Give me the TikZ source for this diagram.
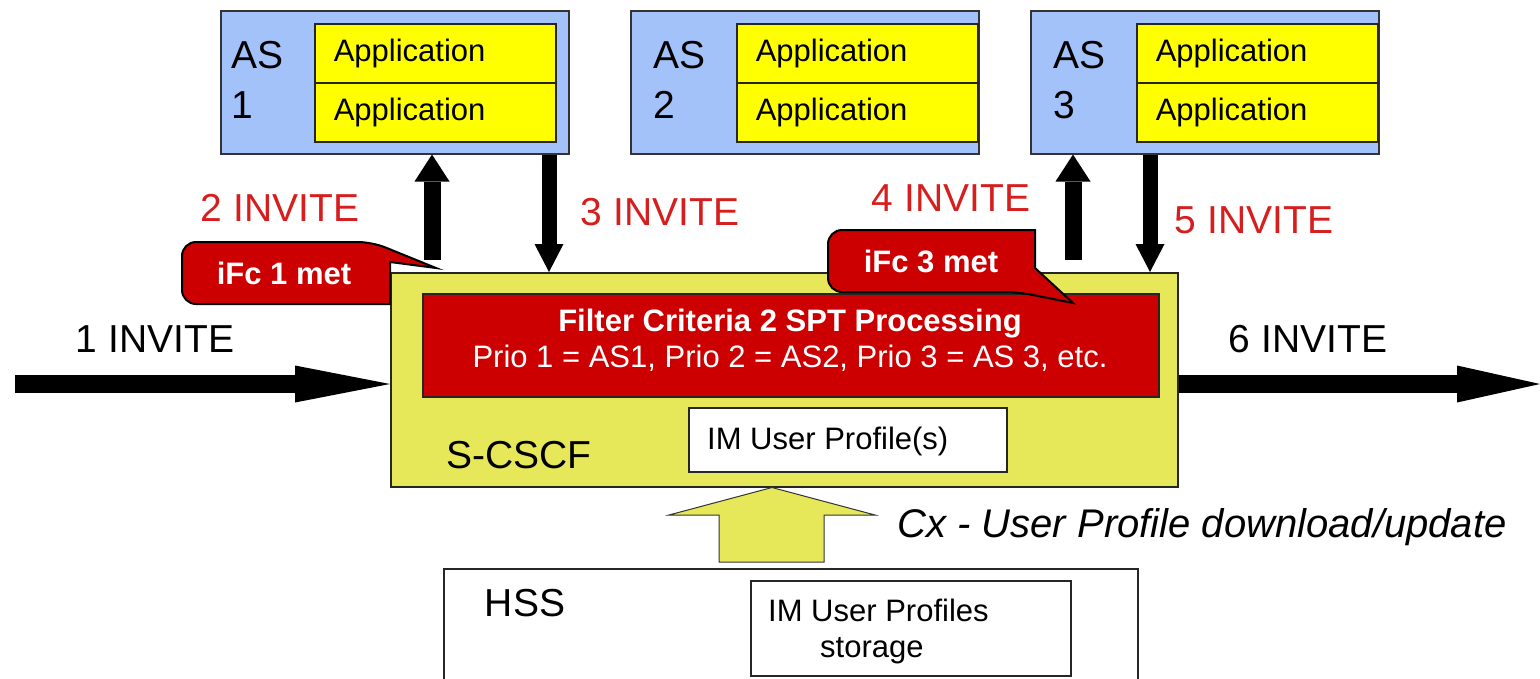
\documentclass[tikz,border=0pt]{standalone}
\usepackage{fontspec}
\setmainfont{Liberation Sans}
\usetikzlibrary{arrows.meta}
\definecolor{asblue}{RGB}{164,194,250}
\definecolor{appyellow}{RGB}{255,255,0}
\definecolor{cscfyellow}{RGB}{230,232,90}
\definecolor{boxred}{RGB}{204,0,0}
\definecolor{txtred}{RGB}{214,30,30}
\begin{document}
\begin{tikzpicture}[x=1pt,y=-1pt,line join=miter,
  asbox/.style={draw=black!80,fill=asblue,line width=1.5pt,minimum width=348pt,minimum height=143pt,inner sep=0pt,anchor=north west},
  app/.style={draw=black!85,fill=appyellow,line width=1.5pt,text width=203pt,inner xsep=19pt,inner ysep=0pt,minimum height=59pt,align=left,anchor=north west,font=\fontsize{31}{36}\selectfont},
  aslabel/.style={align=left,inner sep=0pt,anchor=west,font=\fontsize{39}{50}\selectfont},
  invite/.style={inner sep=0pt,font=\fontsize{39}{44}\selectfont},
  redinvite/.style={invite,text=txtred},
  plainbox/.style={draw=black!85,fill=white,line width=1.5pt,inner sep=0pt,anchor=north west},
  callout/.style={draw=black,fill=boxred,line width=2pt},
  callouttext/.style={text=white,inner sep=0pt,font=\fontsize{31}{36}\selectfont\bfseries},
  uparrow/.style={line width=17pt,-{Triangle[length=27pt,width=35pt,line width=0pt]}},
  downarrow/.style={line width=15pt,-{Triangle[length=28pt,width=29pt,line width=0pt]}},
  bigarrow/.style={line width=18pt,-{Triangle[length=#1,width=37pt,line width=0pt]}},
  cxarrow/.style={draw=black!80,fill=cscfyellow,line width=1pt}
]
\useasboundingbox (0,0) rectangle (1540,678);

% Application servers
\node[asbox] (as1) at (220,10) {};
\node[asbox] (as2) at (630,10) {};
\node[asbox] (as3) at (1030,10) {};
\node[app] (app1a) at (314,23) {Application};
\node[app] (app1b) at (314,82) {Application};
\node[app] (app2a) at (736,23) {Application};
\node[app] (app2b) at (736,82) {Application};
\node[app] (app3a) at (1136,23) {Application};
\node[app] (app3b) at (1136,82) {Application};
\node[aslabel] (as1l) at (231,80) {AS\\1};
\node[aslabel] (as2l) at (653,80) {AS\\2};
\node[aslabel] (as3l) at (1053,80) {AS\\3};

% S-CSCF
\node[draw=black!85,fill=cscfyellow,line width=1.5pt,minimum width=787pt,minimum height=214pt,inner sep=0pt,anchor=north west] (cscf) at (390,272) {};
\node[draw=black!85,fill=boxred,line width=1.5pt,minimum width=736pt,minimum height=103pt,inner sep=0pt,anchor=north west] (fc) at (422,293) {};
\node[text=white,align=center,inner sep=0pt,font=\fontsize{31}{36}\selectfont] (fctext) at (790,340)
  {\textbf{Filter Criteria 2 SPT Processing}\\Prio 1 = AS1, Prio 2 = AS2, Prio 3 = AS 3, etc.};
\node[plainbox,minimum width=318pt,minimum height=64pt] (prof) at (688,407) {};
\node[inner sep=0pt,anchor=base west,font=\fontsize{31}{36}\selectfont] (proftext) at (707,449) {IM User Profile(s)};
\node[inner sep=0pt,font=\fontsize{39}{44}\selectfont] (cscfl) at (519,455) {S-CSCF};

% vertical arrows
\coordinate (u1) at (432,260);
\coordinate (d1) at (549,0);
\coordinate (u3) at (1073,260);
\coordinate (d3) at (1150,0);
\draw[uparrow] (u1) -- (u1 |- as1.south);
\draw[downarrow] (d1 |- as1.south) -- (d1 |- cscf.north);
\draw[uparrow] (u3) -- (u3 |- as3.south);
\draw[downarrow] (d3 |- as3.south) -- (d3 |- cscf.north);

% horizontal arrows
\coordinate (in1) at (15,384);
\coordinate (out6) at (1540,384);
\draw[bigarrow=95pt] (in1) -- (in1 -| cscf.west);
\draw[bigarrow=83pt] (out6 -| cscf.east) -- (out6);

% callouts
\draw[callout] (280,304) [rounded corners=14pt] -- (182,304) -- (182,242) -- (372,242) [sharp corners] -- (436,268) -- (390,262) -- (390,304) [rounded corners=14pt] -- cycle;
\node[callouttext] (ifc1) at (284,273) {iFc 1 met};
\draw[callout] (930,230) [rounded corners=14pt] -- (828,230) -- (828,292) -- (1018,292) [sharp corners] -- (1073,303) -- (1035,268) -- (1035,230) [rounded corners=14pt] -- cycle;
\node[callouttext] (ifc3) at (931,261) {iFc 3 met};

% INVITE labels
\node[invite] (inv1) at (155,339) {1 INVITE};
\node[redinvite] (inv2) at (280,208) {2 INVITE};
\node[redinvite] (inv3) at (660,212) {3 INVITE};
\node[redinvite] (inv4) at (951,198) {4 INVITE};
\node[redinvite] (inv5) at (1254,220) {5 INVITE};
\node[invite] (inv6) at (1308,339) {6 INVITE};

% HSS
\node[plainbox,minimum width=694pt,minimum height=130pt] (hss) at (443,568) {};
\node[inner sep=0pt,font=\fontsize{39}{44}\selectfont] (hssl) at (525,603) {HSS};
\node[plainbox,minimum width=320pt,minimum height=95pt] (store) at (750,580) {};
\node[inner sep=0pt,anchor=base west,font=\fontsize{31}{36}\selectfont] (st1) at (768,621) {IM User Profiles};
\node[inner sep=0pt,anchor=base west,font=\fontsize{31}{36}\selectfont] (st2) at (820,657) {storage};

% Cx arrow
\coordinate (cx) at (772,0);
\filldraw[cxarrow] (cx |- cscf.south) -- (875,515) -- (824,515) -- (824,562) -- (719,562) -- (719,515) -- (669,515) -- cycle;
\node[inner sep=0pt,font=\fontsize{40}{44}\selectfont\itshape] (cxl) at (1202,527) {Cx - User Profile download/update};
\end{tikzpicture}
\end{document}
